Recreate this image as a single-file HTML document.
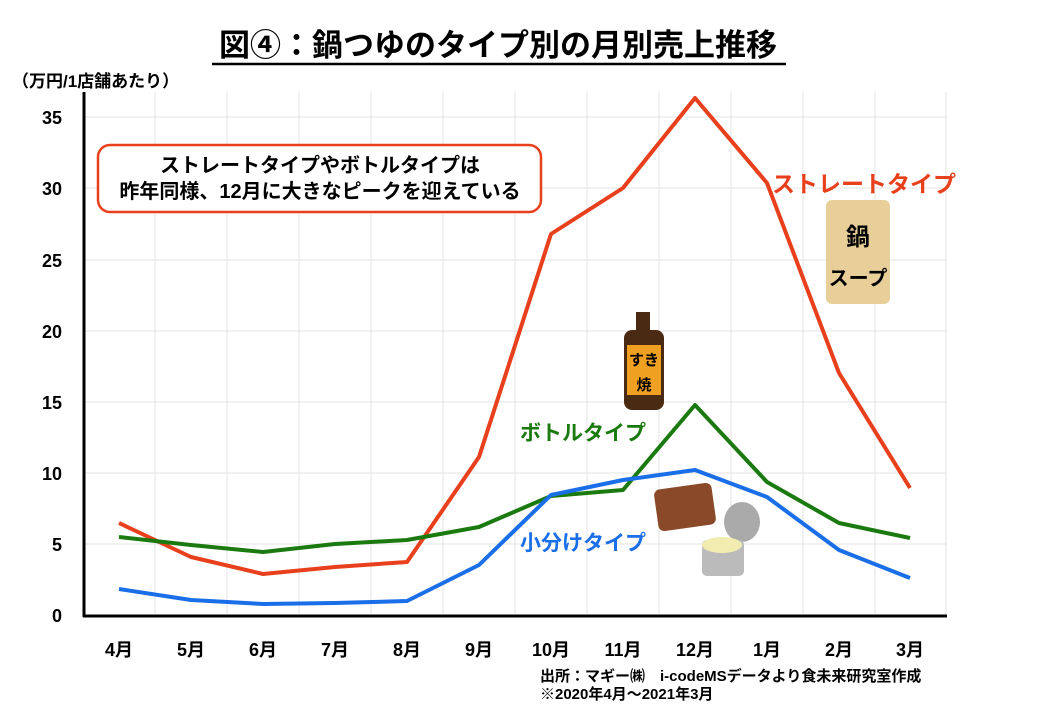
<!DOCTYPE html><html><head><meta charset="utf-8"><style>body{margin:0;background:#fff}svg{display:block}text{font-family:"Liberation Sans","Noto Sans CJK JP",sans-serif;font-weight:bold}</style></head><body>
<svg width="1040" height="720" viewBox="0 0 1040 720">
<text x="498" y="56" font-size="31" text-anchor="middle">図④：鍋つゆのタイプ別の月別売上推移</text>
<line x1="212" y1="64" x2="786" y2="64" stroke="#000" stroke-width="2.5"/>
<text x="12" y="87" font-size="17">（万円/1店舗あたり）</text>
<g stroke="#e3e3e3" stroke-width="1">
<line x1="84" y1="117" x2="946" y2="117"/><line x1="84" y1="188" x2="946" y2="188"/><line x1="84" y1="260" x2="946" y2="260"/><line x1="84" y1="331" x2="946" y2="331"/><line x1="84" y1="402" x2="946" y2="402"/><line x1="84" y1="473" x2="946" y2="473"/><line x1="84" y1="544" x2="946" y2="544"/>
<line x1="155" y1="92" x2="155" y2="615"/><line x1="227" y1="92" x2="227" y2="615"/><line x1="299" y1="92" x2="299" y2="615"/><line x1="371" y1="92" x2="371" y2="615"/><line x1="443" y1="92" x2="443" y2="615"/><line x1="515" y1="92" x2="515" y2="615"/><line x1="587" y1="92" x2="587" y2="615"/><line x1="659" y1="92" x2="659" y2="615"/><line x1="731" y1="92" x2="731" y2="615"/><line x1="803" y1="92" x2="803" y2="615"/><line x1="875" y1="92" x2="875" y2="615"/><line x1="946" y1="92" x2="946" y2="615"/>
</g>
<line x1="84" y1="92" x2="84" y2="617" stroke="#000" stroke-width="3"/>
<line x1="83" y1="616" x2="947" y2="616" stroke="#000" stroke-width="3"/>
<g font-size="18" text-anchor="end"><text x="62" y="124">35</text><text x="62" y="195">30</text><text x="62" y="267">25</text><text x="62" y="338">20</text><text x="62" y="409">15</text><text x="62" y="480">10</text><text x="62" y="551">5</text><text x="62" y="622">0</text></g>
<g font-size="18" text-anchor="middle"><text x="119" y="656">4月</text><text x="191" y="656">5月</text><text x="263" y="656">6月</text><text x="335" y="656">7月</text><text x="407" y="656">8月</text><text x="479" y="656">9月</text><text x="551" y="656">10月</text><text x="623" y="656">11月</text><text x="695" y="656">12月</text><text x="767" y="656">1月</text><text x="839" y="656">2月</text><text x="910" y="656">3月</text></g>
<text x="540" y="681" font-size="15">出所：マギー㈱　i-codeMSデータより食未来研究室作成</text>
<text x="540" y="699" font-size="15">※2020年4月～2021年3月</text>
<rect x="98" y="145" width="443" height="67" rx="12" fill="#fff" stroke="#e8401c" stroke-width="2.5"/>
<text x="320" y="172" font-size="20" text-anchor="middle">ストレートタイプやボトルタイプは</text>
<text x="320" y="198" font-size="20" text-anchor="middle">昨年同様、12月に大きなピークを迎えている</text>
<g fill="none" stroke-width="4" stroke-linejoin="round">
<polyline stroke="#e8401c" points="119,523 191,557 263,574 335,567 407,562 479,457 551,234 623,188 695,98 767,183 839,373 910,488"/>
<polyline stroke="#1a7a10" points="119,537 191,545 263,552 335,544 407,540 479,527 551,496 623,490 695,405 767,482 839,523 910,538"/>
<polyline stroke="#1a6ee8" points="119,589 191,600 263,604 335,603 407,601 479,565 551,495 623,480 695,470 767,497 839,550 910,578"/>
</g>
<text x="772" y="192" font-size="23" fill="#e8401c">ストレートタイプ</text>
<text x="520" y="440" font-size="21" fill="#1a7a10">ボトルタイプ</text>
<text x="520" y="550" font-size="21" fill="#1a6ee8">小分けタイプ</text>
<rect x="826" y="200" width="64" height="104" rx="6" fill="#e8cf9a"/>
<text x="858" y="245" font-size="24" text-anchor="middle">鍋</text>
<text x="858" y="285" font-size="20" text-anchor="middle">スープ</text>
<rect x="636" y="312" width="14" height="22" fill="#4a2a12"/>
<rect x="624" y="330" width="40" height="80" rx="8" fill="#4a2a12"/>
<rect x="627" y="345" width="34" height="50" fill="#f0a020"/>
<text x="644" y="365" font-size="15" text-anchor="middle">すき</text>
<text x="644" y="390" font-size="15" text-anchor="middle">焼</text>
<rect x="656" y="486" width="58" height="42" rx="6" fill="#8a4a2a" transform="rotate(-8 685 507)"/>
<ellipse cx="742" cy="522" rx="18" ry="20" fill="#aaa"/>
<rect x="702" y="540" width="42" height="36" rx="5" fill="#bbb"/>
<ellipse cx="722" cy="545" rx="20" ry="8" fill="#f3ecb0"/>
</svg></body></html>
